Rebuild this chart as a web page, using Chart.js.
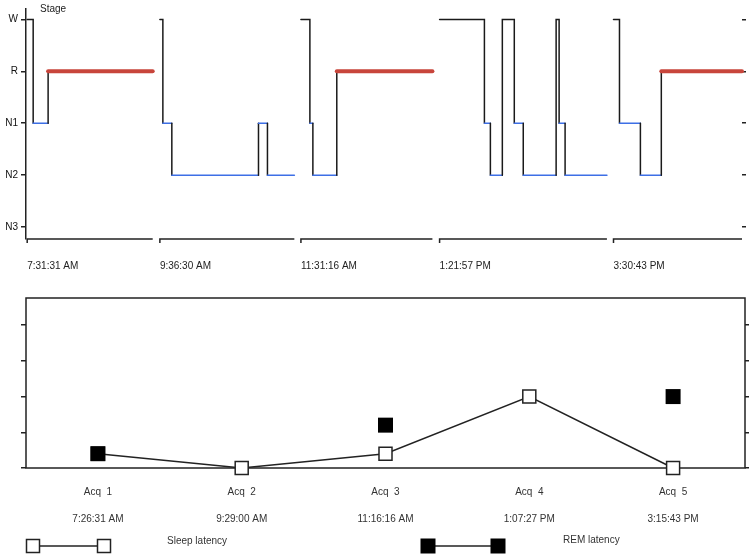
<!DOCTYPE html>
<html>
<head>
<meta charset="utf-8">
<script src="https://cdn.jsdelivr.net/npm/chart.js@4.4.1/dist/chart.umd.min.js"></script>
<style>
  html, body { margin: 0; padding: 0; background: #fff; }
  .box { position: absolute; left: 0; width: 749px; }
</style>
</head>
<body>
<div class="box" style="top:0;height:280px"><canvas id="hypno"></canvas></div>
<div class="box" style="top:280px;height:275px"><canvas id="latency"></canvas></div>
<script>
// y axis of the hypnogram, bottom to top
const stageLabels = ['N3', 'N2', 'N1', 'R', 'W'];

// naps on a compressed time axis (minutes)
const napStarts = [0.2, 22.4, 46, 69.2, 98.3];
const napTimes = ['7:31:31 AM', '9:36:30 AM', '11:31:16 AM', '1:21:57 PM', '3:30:43 PM'];
const napStages = [
  ['W', 'N1', 'R'],
  ['W', 'N1', 'N2', 'N1', 'N2'],
  ['W', 'N1', 'N2', 'R'],
  ['W', 'N1', 'N2', 'W', 'N1', 'N2', 'W', 'N1', 'N2'],
  ['W', 'N1', 'N2', 'R']
];
const napMinutes = [
  [1, 2.5, 17.5],
  [0.5, 1.5, 14.5, 1.5, 4.5],
  [1.5, 0.5, 4, 16],
  [7.5, 1, 2, 2, 1.5, 5.5, 0.5, 1, 7],
  [1, 3.5, 3.5, 13.5]
];

// latency chart
const acqLabels = ['Acq  1', 'Acq  2', 'Acq  3', 'Acq  4', 'Acq  5'];
const acqTimes = ['7:26:31 AM', '9:29:00 AM', '11:16:16 AM', '1:07:27 PM', '3:15:43 PM'];
const sleepLatency = [2, 0, 2, 10, 0];
const remLatency = [2, null, 6, null, 10];
const seriesNames = ['Sleep latency', 'REM latency'];

Chart.defaults.font.family = '"Liberation Sans", Arial, sans-serif';
Chart.defaults.font.size = 10;
Chart.defaults.color = '#222';

// build step points: each run gives a start and an end point, gaps between naps
const hypnoPoints = [];
napStarts.forEach((start, n) => {
  let t = start;
  napStages[n].forEach((st, k) => {
    const y = stageLabels.indexOf(st);
    hypnoPoints.push({ x: t, y: y });
    t += napMinutes[n][k];
    hypnoPoints.push({ x: t, y: y });
  });
  hypnoPoints.push({ x: t + 0.1, y: null });
});

const stageColor = ['#3d6fe6', '#3d6fe6', '#3d6fe6', '#c8453b', '#1a1a1a'];

const hypnoExtras = {
  id: 'hypnoExtras',
  afterDraw(chart) {
    const { ctx, chartArea, scales: { x } } = chart;
    ctx.save();
    ctx.strokeStyle = '#222';
    ctx.lineWidth = 1.5;
    napStarts.forEach((s, i) => {
      const end = s + napMinutes[i].reduce((a, b) => a + b, 0);
      const x0 = x.getPixelForValue(s);
      const x1 = x.getPixelForValue(end);
      ctx.beginPath();
      ctx.moveTo(x0, chartArea.bottom + 4);
      ctx.lineTo(x0, chartArea.bottom);
      ctx.lineTo(x1, chartArea.bottom);
      ctx.stroke();
    });
    ctx.fillStyle = '#222';
    ctx.font = '10px "Liberation Sans", Arial, sans-serif';
    ctx.textBaseline = 'middle';
    ctx.fillText('Stage', chartArea.left + 14, 9);
    ctx.restore();
  }
};

const stageTicks = s => { s.ticks = stageLabels.map((_, i) => ({ value: i })); };

new Chart(document.getElementById('hypno'), {
  type: 'line',
  data: {
    datasets: [{
      data: hypnoPoints,
      borderColor: '#1a1a1a',
      borderWidth: 1.5,
      borderCapStyle: 'round',
      pointRadius: 0,
      spanGaps: false,
      clip: false,
      segment: {
        borderColor: c => c.p0.parsed.y !== c.p1.parsed.y ? '#1a1a1a' : stageColor[c.p0.parsed.y],
        borderWidth: c => (c.p0.parsed.y === c.p1.parsed.y && c.p0.parsed.y === 3) ? 4 : 1.5
      }
    }]
  },
  options: {
    responsive: true,
    maintainAspectRatio: false,
    animation: false,
    layout: { padding: { top: 5.5 }, autoPadding: false },
    plugins: { legend: { display: false }, tooltip: { enabled: false } },
    scales: {
      x: {
        type: 'linear',
        min: 0,
        max: 119.8,
        grid: { display: false },
        border: { display: false },
        afterBuildTicks: s => { s.ticks = napStarts.map(v => ({ value: v })); },
        ticks: {
          align: 'start',
          padding: 13,
          maxRotation: 0,
          autoSkip: false,
          color: '#222',
          callback: (v, i) => napTimes[i]
        },
        afterFit: s => { s.height = 41; }
      },
      y: {
        min: -0.23,
        max: 4.2,
        afterBuildTicks: stageTicks,
        ticks: { padding: 3, color: '#111', callback: v => stageLabels[v] },
        grid: { drawOnChartArea: false, tickLength: 5, color: '#222', lineWidth: 1.5 },
        border: { color: '#222', width: 1.5 },
        afterFit: s => { s.width = 26; }
      },
      y2: {
        position: 'right',
        min: -0.23,
        max: 4.2,
        afterBuildTicks: stageTicks,
        ticks: { display: false },
        grid: { drawOnChartArea: false, tickLength: 4, color: '#222', lineWidth: 1.5 },
        border: { display: false },
        afterFit: s => { s.width = 7; }
      }
    }
  },
  plugins: [hypnoExtras]
});

// frame + custom legend for the latency chart
const latencyExtras = {
  id: 'latencyExtras',
  beforeDatasetsDraw(chart) {
    const { ctx, chartArea: a } = chart;
    ctx.save();
    ctx.strokeStyle = '#222';
    ctx.lineWidth = 1.5;
    ctx.strokeRect(a.left, a.top, a.right - a.left, a.bottom - a.top);
    ctx.restore();
  },
  afterDraw(chart) {
    const { ctx } = chart;
    const y = 266;
    ctx.save();
    ctx.strokeStyle = '#222';
    ctx.lineWidth = 1.5;
    // sleep latency glyph
    ctx.beginPath(); ctx.moveTo(40, y); ctx.lineTo(97, y); ctx.stroke();
    [33, 104].forEach(cx => {
      ctx.fillStyle = '#fff';
      ctx.fillRect(cx - 6.5, y - 6.5, 13, 13);
      ctx.strokeRect(cx - 6.5, y - 6.5, 13, 13);
    });
    // REM latency glyph
    ctx.beginPath(); ctx.moveTo(428, y); ctx.lineTo(498, y); ctx.stroke();
    ctx.fillStyle = '#000';
    [428, 498].forEach(cx => ctx.fillRect(cx - 7.5, y - 7.5, 15, 15));
    ctx.fillStyle = '#333';
    ctx.font = '10px "Liberation Sans", Arial, sans-serif';
    ctx.textBaseline = 'middle';
    ctx.fillText(seriesNames[0], 167, 261);
    ctx.fillText(seriesNames[1], 563, 260);
    ctx.restore();
  }
};

const latencyY = (pos, w, tl) => ({
  position: pos,
  min: 0,
  max: 23.8,
  ticks: { display: false, stepSize: 5, includeBounds: false },
  grid: { drawOnChartArea: false, tickLength: tl, color: '#222', lineWidth: 1.5 },
  border: { display: false },
  afterFit: s => { s.width = w; }
});

new Chart(document.getElementById('latency'), {
  type: 'line',
  data: {
    labels: acqLabels.map((a, i) => [a, acqTimes[i]]),
    datasets: [
      {
        label: seriesNames[1],
        data: remLatency,
        showLine: false,
        pointStyle: 'rect',
        pointRadius: 10.6,
        pointBackgroundColor: '#000',
        pointBorderColor: '#000',
        pointBorderWidth: 0,
        order: 1,
        clip: false
      },
      {
        label: seriesNames[0],
        data: sleepLatency,
        borderColor: '#222',
        borderWidth: 1.5,
        pointStyle: 'rect',
        pointRadius: 9.2,
        pointBackgroundColor: '#fff',
        pointBorderColor: '#222',
        pointBorderWidth: 1.5,
        order: 2,
        clip: false
      }
    ]
  },
  options: {
    responsive: true,
    maintainAspectRatio: false,
    animation: false,
    layout: { padding: { top: 18 }, autoPadding: false },
    plugins: { legend: { display: false }, tooltip: { enabled: false } },
    scales: {
      x: {
        offset: true,
        grid: { display: false },
        border: { display: false },
        ticks: { padding: 2.5, color: '#333', font: { size: 10, lineHeight: 2.7 }, maxRotation: 0, autoSkip: false },
        afterFit: s => { s.height = 87; }
      },
      y: latencyY('left', 26, 5),
      y2: latencyY('right', 4, 5)
    }
  },
  plugins: [latencyExtras]
});
</script>
</body>
</html>
